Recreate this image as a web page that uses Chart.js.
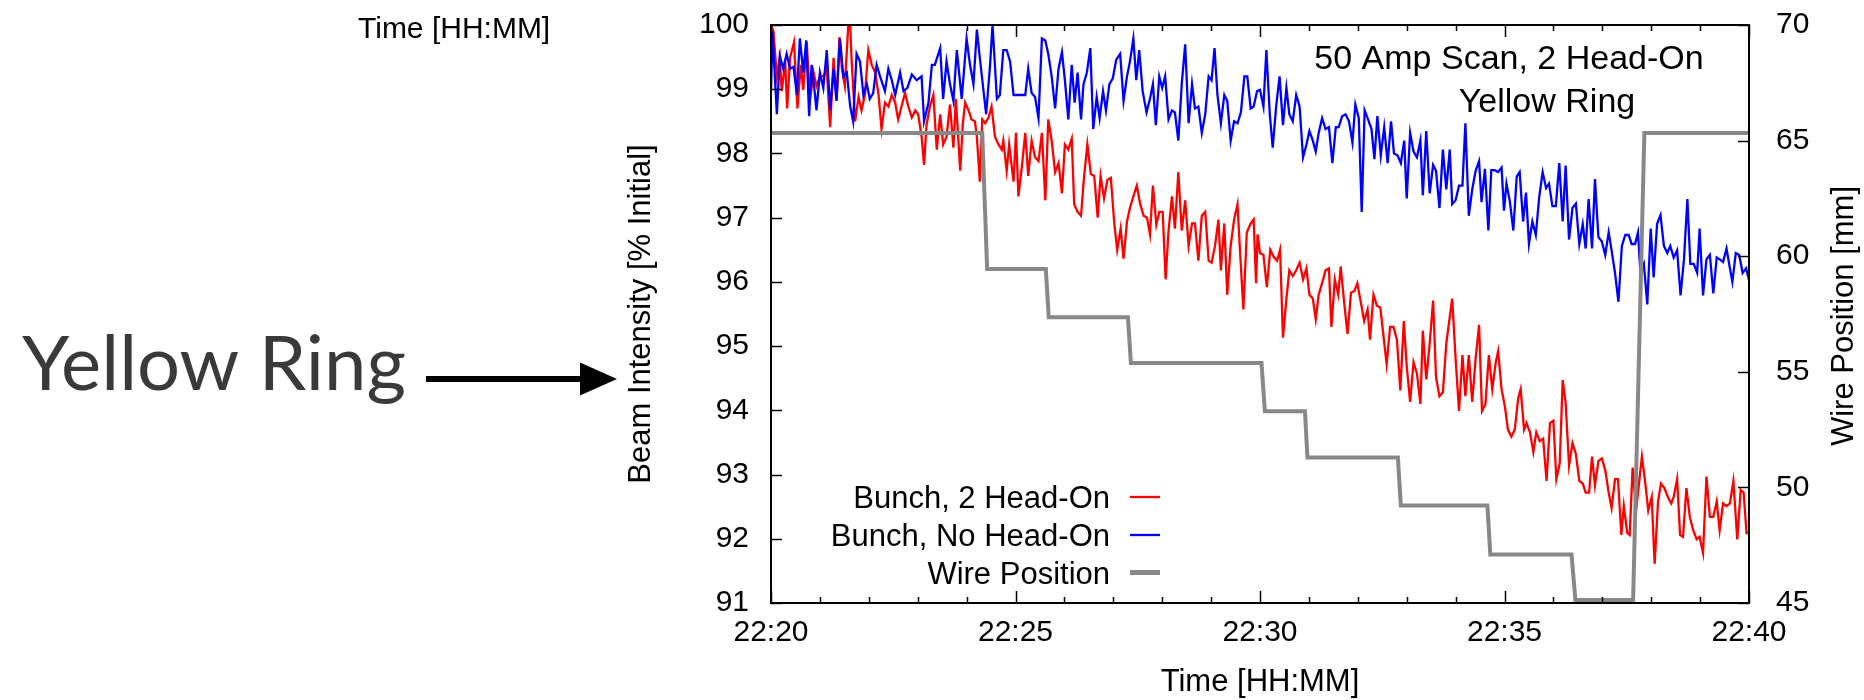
<!DOCTYPE html>
<html><head><meta charset="utf-8">
<script src="https://cdn.jsdelivr.net/npm/chart.js@4.4.1/dist/chart.umd.min.js"></script>
<style>html,body{margin:0;padding:0;background:#fff;}canvas{display:block;}</style>
</head><body>
<canvas id="c" width="1864" height="700"></canvas>
<script>
// Time in minutes after 22:00, intensity in % of initial, wire position in mm
const xTickLabels = ['22:20', '22:25', '22:30', '22:35', '22:40'];
const seriesLabels = ['Bunch, 2 Head-On', 'Bunch, No Head-On', 'Wire Position'];
const titleLines = ['50 Amp Scan, 2 Head-On', 'Yellow Ring'];
const sideLabel = 'Yellow Ring';
const xTitle = 'Time [HH:MM]';
const yTitle = 'Beam Intensity [% Initial]';
const y2Title = 'Wire Position [mm]';

const noHeadOn = [
[20.00,98.97],[20.03,99.90],[20.12,98.61],[20.18,99.52],[20.25,99.32],[20.32,99.55],[20.39,99.32],[20.46,99.35],[20.53,98.91],[20.59,99.79],
[20.66,99.26],[20.72,99.76],[20.78,98.58],[20.83,99.38],[20.90,98.91],[20.93,98.67],[21.00,99.26],[21.07,99.02],[21.14,99.61],[21.21,98.67],
[21.28,99.32],[21.34,98.82],[21.41,99.79],[21.48,99.20],[21.55,99.26],[21.62,98.73],[21.68,98.50],[21.75,99.55],[21.82,99.43],[21.89,98.91],
[21.96,99.08],[22.02,98.85],[22.09,98.94],[22.16,99.38],[22.23,99.20],[22.33,98.97],[22.40,99.32],[22.47,99.14],[22.54,98.91],[22.64,99.26],
[22.71,98.97],[22.79,99.02],[22.88,99.23],[22.98,99.14],[23.08,99.20],[23.13,98.50],[23.22,98.79],[23.29,99.38],[23.35,99.38],[23.46,99.64],
[23.52,98.85],[23.59,99.43],[23.66,99.08],[23.73,98.82],[23.80,99.61],[23.90,98.85],[24.00,99.79],[24.07,99.38],[24.14,99.08],[24.21,99.93],
[24.27,99.49],[24.40,98.61],[24.48,99.38],[24.53,100.0],[24.62,98.85],[24.68,98.91],[24.75,99.61],[24.82,99.61],[24.89,99.43],
[24.96,98.91],[25.03,98.91],[25.09,98.91],[25.20,98.91],[25.26,99.32],[25.33,98.94],[25.40,98.88],[25.47,98.55],[25.54,99.79],[25.61,99.76],
[25.67,99.55],[25.74,99.20],[25.81,98.70],[25.88,99.32],[25.95,99.58],[26.01,99.14],[26.08,98.53],[26.15,99.38],[26.21,98.79],[26.27,99.26],
[26.34,98.53],[26.39,99.08],[26.46,99.26],[26.53,99.64],[26.59,98.38],[26.66,98.88],[26.72,98.55],[26.79,98.97],[26.85,98.67],[26.92,99.08],
[26.99,99.17],[27.06,99.46],[27.14,99.55],[27.21,98.82],[27.28,99.20],[27.34,99.43],[27.41,99.79],[27.47,99.14],[27.53,99.61],[27.60,98.97],
[27.68,98.64],[27.75,98.85],[27.81,99.08],[27.87,98.44],[27.94,99.20],[28.00,99.02],[28.06,99.20],[28.13,98.53],[28.20,98.67],[28.26,98.64],
[28.33,98.20],[28.40,99.08],[28.47,99.70],[28.54,98.47],[28.61,99.08],[28.67,98.70],[28.74,98.73],[28.81,98.32],[28.88,98.61],[28.95,99.20],
[29.01,99.14],[29.07,99.64],[29.13,98.91],[29.20,98.47],[29.27,98.91],[29.33,98.82],[29.40,98.20],[29.47,98.50],[29.54,98.47],[29.61,98.64],
[29.68,99.20],[29.74,99.20],[29.81,98.70],
[29.87,98.73],[29.94,98.97],[30.00,98.99],[30.07,98.73],[30.13,99.61],[30.20,98.61],[30.26,98.09],[30.33,98.73],[30.40,99.20],[30.47,98.44],
[30.54,99.02],[30.60,98.61],[30.67,98.50],[30.74,98.91],[30.81,98.73],[30.88,97.94],[30.95,98.14],[31.01,98.35],[31.08,98.20],[31.14,98.03],
[31.20,98.32],[31.27,98.55],[31.34,98.38],[31.41,98.41],[31.48,97.85],[31.55,98.41],[31.61,98.41],[31.68,98.58],[31.75,98.61],[31.82,98.50],
[31.89,98.17],[31.95,98.76],[32.02,98.55],[32.08,97.09],[32.14,98.67],[32.21,98.53],[32.28,98.38],[32.34,97.91],[32.40,98.58],[32.47,97.97],
[32.54,98.41],[32.61,97.85],[32.68,98.50],[32.74,98.00],[32.81,97.97],[32.88,97.85],[32.95,98.20],[33.00,97.30],[33.07,98.32],[33.14,98.03],
[33.21,97.94],[33.28,98.20],[33.33,97.35],[33.40,98.35],[33.47,97.38],[33.54,97.82],[33.60,97.73],[33.67,97.15],[33.74,98.06],[33.81,97.44],
[33.88,98.06],[33.93,97.21],[34.00,97.27],[34.07,97.50],[34.14,97.50],[34.20,98.47],[34.27,97.03],[34.34,97.44],[34.41,97.73],[34.48,97.88],
[34.53,97.24],[34.60,97.76],[34.67,96.80],
[34.73,97.74],[34.80,97.74],[34.87,97.71],[34.94,97.78],[34.99,97.11],[35.04,97.53],[35.11,97.25],[35.18,96.80],[35.25,97.64],[35.31,97.71],
[35.38,96.94],[35.44,97.39],[35.50,96.59],[35.57,96.94],[35.64,96.73],[35.71,97.32],[35.78,97.71],[35.85,97.46],[35.91,97.53],[35.98,97.18],
[36.05,97.18],[36.12,97.85],[36.19,96.94],[36.25,97.81],[36.32,96.66],[36.39,97.15],[36.46,97.22],[36.53,96.59],[36.60,96.90],[36.66,96.52],
[36.72,97.29],[36.79,96.52],[36.85,97.60],[36.92,96.70],[36.99,96.63],[37.06,96.42],[37.13,96.77],[37.19,96.49],[37.26,96.14],[37.33,95.69],
[37.40,96.56],[37.47,96.73],[37.54,96.73],[37.60,96.59],[37.67,96.59],[37.73,96.77],[37.78,96.14],[37.85,96.28],[37.92,95.65],[37.99,96.83],
[38.05,96.07],[38.12,96.90],[38.19,97.04],[38.26,96.56],[38.33,96.45],[38.39,96.56],[38.46,96.38],[38.53,96.49],[38.60,95.79],[38.67,96.35],
[38.74,97.29],[38.80,96.28],[38.87,96.28],[38.94,96.14],[38.99,96.83],[39.06,95.79],[39.13,96.35],[39.20,96.42],[39.27,95.82],[39.34,96.38],
[39.40,96.35],[39.47,96.31],[39.54,96.52],[39.61,96.21],[39.66,96.00],[39.73,96.45],[39.80,96.42],[39.87,96.14],[39.94,96.21],[40.00,96.03]
];

const twoHeadOn = [
[20.00,100.0],[20.05,99.90],[20.12,99.20],[20.18,99.49],[20.22,98.97],[20.29,99.43],[20.33,98.70],[20.39,99.49],[20.47,99.73],[20.54,98.70],
[20.61,99.38],[20.66,98.99],[20.73,99.73],[20.80,98.85],[20.87,99.26],[20.93,99.05],[21.00,99.20],[21.07,99.20],[21.14,99.32],[21.21,98.41],
[21.28,99.49],[21.34,98.82],[21.40,99.81],[21.45,99.32],[21.51,99.05],[21.58,99.99],[21.62,100.0],[21.65,99.43],[21.72,98.50],[21.79,98.88],
[21.85,98.67],[21.92,98.91],[21.99,99.61],[22.06,99.38],[22.13,99.26],[22.20,98.91],[22.26,98.38],[22.33,98.79],[22.40,98.73],[22.47,98.91],
[22.54,98.79],[22.60,98.53],[22.67,98.73],[22.74,98.94],[22.81,98.73],[22.88,98.56],[22.95,98.67],[23.01,98.61],[23.08,98.26],[23.13,97.82],
[23.18,98.44],[23.25,98.73],[23.32,98.91],[23.39,98.06],[23.46,98.61],[23.52,98.14],[23.59,98.26],[23.66,98.76],[23.73,98.09],[23.78,98.85],
[23.87,97.73],[23.92,98.44],[23.97,98.79],[24.04,98.67],[24.10,98.53],[24.17,98.50],[24.21,98.26],[24.27,97.56],[24.32,98.53],[24.38,98.47],
[24.45,98.56],[24.51,98.73],[24.58,98.26],[24.65,98.14],[24.72,98.06],[24.75,98.20],[24.82,97.73],[24.87,98.14],
[24.96,97.56],[25.01,98.32],[25.06,97.33],[25.13,97.79],[25.20,98.32],[25.26,97.65],[25.33,98.20],[25.40,97.94],[25.47,97.88],[25.54,98.32],
[25.61,97.27],[25.67,98.53],[25.74,98.20],[25.81,97.71],[25.88,97.85],[25.95,97.38],[26.01,98.14],[26.08,98.06],[26.15,98.23],[26.20,97.21],
[26.27,97.09],[26.34,97.03],[26.40,97.62],[26.47,98.14],[26.54,97.68],[26.61,97.65],[26.68,97.00],[26.74,97.65],[26.81,97.30],[26.88,97.59],
[26.95,97.62],[27.02,96.91],[27.08,96.50],[27.15,96.83],[27.21,96.36],[27.28,96.94],[27.34,97.15],[27.41,97.33],[27.48,97.50],[27.55,97.21],
[27.62,97.03],[27.69,97.00],[27.75,96.74],[27.81,97.50],[27.88,96.89],[27.94,97.09],[28.01,97.09],[28.07,96.04],[28.13,96.80],[28.20,97.33],
[28.26,96.83],[28.33,97.71],[28.40,96.80],[28.47,97.27],[28.54,96.56],[28.61,96.91],[28.67,96.91],[28.74,96.33],[28.81,97.03],[28.88,97.09],
[28.95,96.33],[29.01,96.30],[29.08,96.56],[29.15,96.97],[29.20,96.18],[29.27,96.91],[29.33,95.80],[29.40,96.56],[29.47,96.97],[29.54,97.21],
[29.59,96.50],[29.66,95.57],[29.73,96.77],[29.81,96.91],
[29.87,96.97],[29.92,95.98],[29.95,96.74],[30.00,96.45],[30.07,96.42],[30.14,95.92],[30.21,96.50],[30.28,96.39],[30.35,96.33],[30.41,96.50],
[30.47,95.13],[30.54,95.74],[30.60,96.18],[30.67,96.09],[30.74,96.18],[30.81,96.30],[30.88,96.04],[30.95,96.21],[31.01,95.80],[31.08,95.74],
[31.14,95.42],[31.20,95.80],[31.27,95.98],[31.34,96.18],[31.41,96.21],[31.46,95.30],[31.53,96.04],[31.60,95.80],[31.65,96.24],[31.72,95.69],
[31.79,95.19],[31.86,95.83],[31.93,95.86],[31.99,95.98],[32.06,95.69],[32.13,95.39],[32.20,95.57],[32.25,95.10],[32.32,95.80],[32.39,95.63],
[32.46,95.60],[32.53,95.13],[32.59,94.72],[32.66,95.30],[32.73,95.30],[32.80,95.10],[32.87,94.31],[32.94,95.39],[33.00,94.69],[33.07,94.13],
[33.14,94.75],[33.21,94.57],[33.28,94.10],[33.33,95.24],[33.40,94.48],[33.47,95.04],[33.54,95.71],[33.60,94.51],[33.67,94.22],[33.74,94.28],
[33.81,95.04],[33.88,95.45],[33.93,95.74],[34.00,94.81],[34.07,93.99],[34.14,94.86],[34.20,94.22],[34.27,94.86],[34.34,94.13],[34.41,94.81],
[34.48,95.33],[34.54,93.99],[34.61,94.10],[34.68,94.86],
[34.75,94.33],[34.82,94.74],[34.87,94.92],[34.94,94.33],[35.01,94.05],[35.07,93.70],[35.14,93.59],[35.21,93.70],[35.28,94.19],[35.33,94.33],
[35.40,93.70],[35.45,93.80],[35.52,93.66],[35.59,93.35],[35.65,93.66],[35.72,93.52],[35.79,93.56],[35.86,92.90],[35.93,93.80],[36.00,93.84],
[36.06,92.93],[36.13,93.18],[36.19,94.47],[36.25,94.12],[36.32,93.14],[36.39,93.49],[36.46,93.32],[36.53,92.90],[36.60,92.86],[36.66,92.72],
[36.73,92.72],[36.79,93.28],[36.85,92.83],[36.92,93.21],[36.99,93.25],[37.06,93.07],[37.13,92.72],[37.19,92.48],[37.26,92.93],[37.32,92.93],
[37.39,92.06],[37.44,92.51],[37.51,92.09],[37.56,92.06],[37.62,93.11],[37.69,92.44],[37.75,92.86],[37.81,93.28],[37.88,92.86],[37.94,92.44],
[38.01,92.65],[38.07,91.61],[38.14,92.58],[38.20,92.86],[38.27,92.79],[38.34,92.65],[38.41,92.55],[38.46,92.65],[38.53,92.93],[38.59,92.06],
[38.65,92.03],[38.72,92.79],[38.79,92.34],[38.86,92.13],[38.93,91.99],[38.99,92.03],[39.06,91.78],[39.13,92.97],[39.20,92.34],[39.27,92.34],
[39.34,92.58],[39.40,92.13],[39.47,92.55],[39.54,92.51],[39.61,92.55],[39.68,92.90],[39.76,91.99],[39.83,92.76],[39.89,92.72],[39.95,92.09],
[40.00,92.09]
];

const wirePosition = [
[20.00,65.33],[24.32,65.33],[24.42,59.45],[25.62,59.45],[25.68,57.36],[27.30,57.36],[27.36,55.38],[30.03,55.38],[30.10,53.29],[30.92,53.29],
[30.97,51.29],[32.82,51.29],[32.88,49.22],[34.65,49.22],[34.71,47.10],[36.37,47.10],[36.45,45.13],[37.63,45.13],[37.86,65.33],[40.00,65.33]
];

const FONT = '"Liberation Sans", Arial, Helvetica, sans-serif';
const toXY = arr => arr.map(p => ({x: p[0], y: p[1]}));

const extras = {
  id: 'extras',
  afterDraw(chart) {
    const ctx = chart.ctx, a = chart.chartArea;
    const xs = chart.scales.x, ys = chart.scales.y, y2 = chart.scales.y2;
    ctx.save();
    // inward tick marks
    ctx.strokeStyle = '#000'; ctx.lineWidth = 1.5;
    ctx.beginPath();
    xs.ticks.forEach(t => {
      const px = Math.round(xs.getPixelForValue(t.value)) + 0.5;
      const len = (t.value % 5 === 0) ? 12 : 6;
      ctx.moveTo(px, a.bottom); ctx.lineTo(px, a.bottom - len);
      ctx.moveTo(px, a.top); ctx.lineTo(px, a.top + len);
    });
    ys.ticks.forEach(t => {
      const py = Math.round(ys.getPixelForValue(t.value)) + 0.5;
      ctx.moveTo(a.left, py); ctx.lineTo(a.left + 11, py);
    });
    y2.ticks.forEach(t => {
      const py = Math.round(y2.getPixelForValue(t.value)) + 0.5;
      ctx.moveTo(a.right, py); ctx.lineTo(a.right - 11, py);
    });
    ctx.stroke();
    // frame
    ctx.lineWidth = 2;
    ctx.strokeRect(a.left, a.top, a.right - a.left, a.bottom - a.top);

    ctx.fillStyle = '#000';
    // title inside plot
    ctx.font = '34px ' + FONT;
    ctx.textAlign = 'center'; ctx.textBaseline = 'alphabetic';
    ctx.fillText(titleLines[0], 1509, 69);
    ctx.fillText(titleLines[1], 1547, 112);

    // legend
    ctx.font = '31px ' + FONT;
    ctx.textAlign = 'right';
    const rows = [497, 535, 572.5];
    chart.data.datasets.forEach((ds, i) => {
      ctx.fillStyle = '#000';
      ctx.fillText(ds.label, 1110, rows[i] + 11);
      ctx.strokeStyle = ds.borderColor;
      ctx.lineWidth = i === 2 ? 5 : 2.3;
      ctx.beginPath(); ctx.moveTo(1130, rows[i]); ctx.lineTo(1160, rows[i]); ctx.stroke();
    });

    // axis titles
    ctx.fillStyle = '#000';
    ctx.font = '31px ' + FONT;
    ctx.textAlign = 'center';
    ctx.fillText(xTitle, (a.left + a.right) / 2, 691);
    ctx.save(); ctx.translate(650, (a.top + a.bottom) / 2); ctx.rotate(-Math.PI / 2);
    ctx.fillText(yTitle, 0, 0); ctx.restore();
    ctx.save(); ctx.translate(1853, (a.top + a.bottom) / 2 + 2); ctx.rotate(-Math.PI / 2);
    ctx.fillText(y2Title, 0, 0); ctx.restore();

    // stray top label
    ctx.textAlign = 'left';
    ctx.font = '30px ' + FONT;
    ctx.fillText(xTitle, 358, 38);

    // big side label and arrow
    ctx.fillStyle = '#3a3a3a';
    ctx.font = '76px Lato, "Open Sans", sans-serif';
    ctx.fillText(sideLabel, 22, 390);
    ctx.strokeStyle = '#000'; ctx.lineWidth = 6;
    ctx.beginPath(); ctx.moveTo(426, 379); ctx.lineTo(585, 379); ctx.stroke();
    ctx.fillStyle = '#000';
    ctx.beginPath(); ctx.moveTo(617, 379); ctx.lineTo(580, 362.5); ctx.lineTo(580, 395.5); ctx.closePath(); ctx.fill();
    ctx.restore();
  }
};

const noPadY = s => { s.paddingTop = 0; s.paddingBottom = 0; };

new Chart(document.getElementById('c'), {
  type: 'line',
  data: {
    datasets: [
      {label: seriesLabels[0], data: toXY(twoHeadOn), borderColor: '#ff0000', borderWidth: 2.3, pointRadius: 0, tension: 0, yAxisID: 'y', order: 2},
      {label: seriesLabels[1], data: toXY(noHeadOn), borderColor: '#0000ff', borderWidth: 2.3, pointRadius: 0, tension: 0, yAxisID: 'y', order: 1},
      {label: seriesLabels[2], data: toXY(wirePosition), borderColor: '#888888', borderWidth: 4, pointRadius: 0, tension: 0, yAxisID: 'y2', order: 0}
    ]
  },
  options: {
    responsive: false, animation: false, devicePixelRatio: 1,
    layout: {padding: {top: 25, left: 0, right: 0, bottom: 0}},
    plugins: {legend: {display: false}, tooltip: {enabled: false}},
    scales: {
      x: {
        type: 'linear', min: 20, max: 40,
        grid: {display: false, drawTicks: false}, border: {display: false},
        ticks: {stepSize: 1, autoSkip: false, maxRotation: 0, padding: 12, color: '#000',
          font: {family: FONT, size: 30},
          callback: v => (v % 5 === 0) ? xTickLabels[(v - 20) / 5] : ''},
        afterFit: s => { s.height = 97; s.paddingLeft = 0; s.paddingRight = 0; }
      },
      y: {
        position: 'left', min: 91, max: 100,
        grid: {display: false, drawTicks: false}, border: {display: false},
        ticks: {stepSize: 1, padding: 22, color: '#000', font: {family: FONT, size: 30}},
        afterFit: s => { s.width = 771; noPadY(s); }
      },
      y2: {
        position: 'right', min: 45, max: 70,
        grid: {display: false, drawTicks: false}, border: {display: false},
        ticks: {stepSize: 5, padding: 27, color: '#000', font: {family: FONT, size: 30}},
        afterFit: s => { s.width = 115; noPadY(s); }
      }
    }
  },
  plugins: [extras]
});
</script>
</body></html>
